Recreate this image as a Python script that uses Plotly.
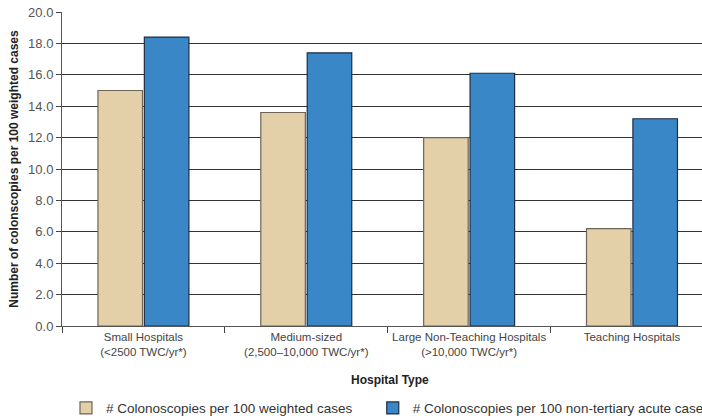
import plotly.graph_objects as go

# Hospital categories (two-line tick labels)
categories = [
    "Small Hospitals<br>(<2500 TWC/yr*)",
    "Medium-sized<br>(2,500–10,000 TWC/yr*)",
    "Large Non-Teaching Hospitals<br>(>10,000 TWC/yr*)",
    "Teaching Hospitals",
]

# Rates per 100 cases
per_100_weighted = [15.0, 13.6, 12.0, 6.2]
per_100_non_tertiary = [18.4, 17.4, 16.1, 13.2]

series_names = [
    "# Colonoscopies per 100 weighted cases",
    "# Colonoscopies per 100 non-tertiary acute cases",
]

y_ticks = [0, 2, 4, 6, 8, 10, 12, 14, 16, 18, 20]

fig = go.Figure()
fig.add_trace(go.Bar(
    x=categories, y=per_100_weighted, name=series_names[0],
    marker=dict(color="#E3CFA8", line=dict(color="#6E6558", width=1.2)),
    legend="legend",
))
fig.add_trace(go.Bar(
    x=categories, y=per_100_non_tertiary, name=series_names[1],
    marker=dict(color="#3987C7", line=dict(color="#1E2E44", width=1.2)),
    legend="legend2",
))

narrow_bold = "Liberation Sans Narrow, Arial Narrow, Liberation Sans, sans-serif"
legend_style = dict(
    orientation="h", xref="container", yref="container",
    xanchor="left", yanchor="middle", y=0.026,
    font=dict(size=13.5, color="#333"), bgcolor="rgba(0,0,0,0)",
)

fig.update_layout(
    width=702, height=419,
    margin=dict(l=62, r=0, t=12, b=93, autoexpand=False),
    paper_bgcolor="white", plot_bgcolor="white",
    barmode="group", bargap=0.43, bargroupgap=0.04,
    font=dict(family="Liberation Sans, Arial, sans-serif", color="#444", size=12),
    showlegend=True,
    legend=dict(x=0.094, **legend_style),
    legend2=dict(x=0.531, **legend_style),
    xaxis=dict(
        type="category", range=[-0.5, 3.43],
        tickson="boundaries", ticks="outside", ticklen=6, tickcolor="#444",
        showline=True, linecolor="#555", linewidth=1,
        showgrid=False, tickangle=0,
        tickfont=dict(size=11.5, color="#444"),
    ),
    yaxis=dict(
        range=[0, 20], tickvals=y_ticks, tickformat=".1f",
        ticks="outside", ticklen=5, tickcolor="#444",
        showline=True, linecolor="#555", linewidth=1,
        showgrid=True, gridcolor="#333", gridwidth=1,
        zeroline=False,
        tickfont=dict(size=13, color="#555"),
        title=dict(text="<b>Number of colonscopies per 100 weighted cases</b>",
                   font=dict(family=narrow_bold, size=12, color="#222"), standoff=6),
    ),
    annotations=[dict(
        text="<b>Hospital Type</b>", xref="paper", yref="paper",
        x=0.5125, y=(326 - 380) / 314, xanchor="center", yanchor="middle",
        showarrow=False, font=dict(family=narrow_bold, size=12, color="#222"),
    )],
)

fig.write_html("out.html")
